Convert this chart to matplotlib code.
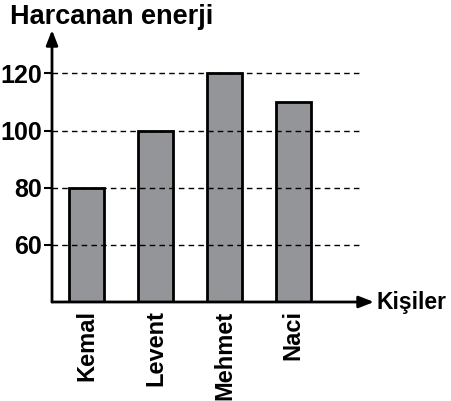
import numpy as np
import matplotlib.pyplot as plt

plt.rcParams['font.family'] = ['Liberation Sans', 'DejaVu Sans']

names = ['Kemal', 'Levent', 'Mehmet', 'Naci']
energy = [80, 100, 120, 110]
yticks = [60, 80, 100, 120]

fig = plt.figure(figsize=(4.52, 4.01), dpi=100)
ax = fig.add_axes([52/452, 1-302/401, (374-52)/452, (302-30)/401])

x = np.arange(len(names))
ax.bar(x, np.array(energy) - 40, bottom=40, width=0.5, color='#939598',
       edgecolor='black', linewidth=2, zorder=2)

# dashed guide lines drawn over the bars
for v in yticks:
    ax.plot([-0.5, 4.0], [v, v], color='black', linestyle=(0, (4, 3)),
            linewidth=1, zorder=3)

ax.set_xlim(-0.5, 4.17)
ax.set_ylim(40, 135.2)
for s in ax.spines.values():
    s.set_visible(False)

# axes with arrows
ax.annotate('', xy=(4.17, 40), xytext=(-0.5, 40),
            arrowprops=dict(arrowstyle='-|>,head_length=0.9,head_width=0.35',
                            color='black', lw=2, shrinkA=0, shrinkB=0),
            annotation_clip=False, zorder=4)
ax.annotate('', xy=(-0.5, 135.2), xytext=(-0.5, 40),
            arrowprops=dict(arrowstyle='-|>,head_length=0.9,head_width=0.35',
                            color='black', lw=2, shrinkA=0, shrinkB=0),
            annotation_clip=False, zorder=4)

ax.set_yticks(yticks)
ax.set_yticklabels([str(v) for v in yticks], fontsize=18, fontweight='bold')
ax.tick_params(axis='y', length=6, width=1.5, pad=1)
ax.set_xticks(x)
ax.set_xticklabels(names, rotation=90, fontsize=17, fontweight='bold')
ax.tick_params(axis='x', length=0, pad=6)

fig.text(10/452, 1-17/401, 'Harcanan enerji', fontsize=19.5, fontweight='bold',
         ha='left', va='center')
fig.text(377/452, 1-302/401, 'Kişiler', fontsize=16.5, fontweight='bold',
         ha='left', va='center')

fig.savefig('out.png', dpi=100)
